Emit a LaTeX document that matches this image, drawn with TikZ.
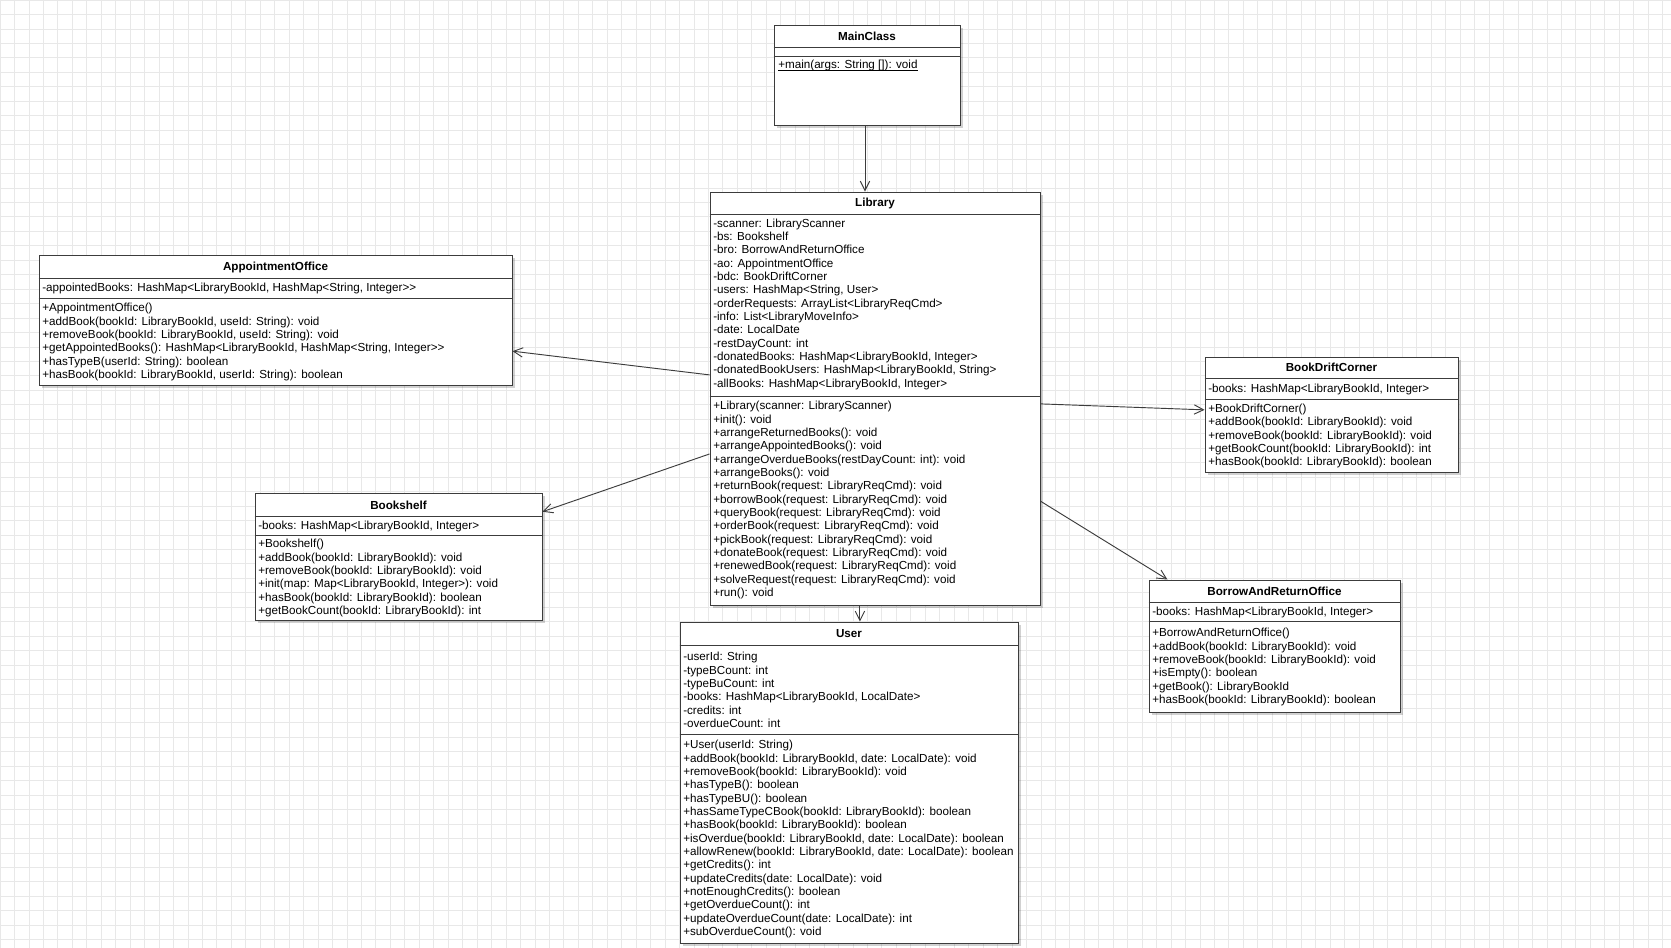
\documentclass[tikz,border=0pt]{standalone}
\usepackage{fontspec}
\setmainfont{Liberation Sans}
\usetikzlibrary{calc,positioning,arrows.meta,fit,shadows}
\definecolor{gridgray}{RGB}{232,232,232}
\definecolor{linegray}{RGB}{60,60,60}

\begin{document}
\begin{tikzpicture}[x=0.75pt, y=-0.75pt,
  classbox/.style={draw=linegray, line width=0.7pt, fill=white, inner sep=0pt,
    drop shadow={shadow xshift=2pt, shadow yshift=-2pt, opacity=0.18, fill=black}},
  classtitle/.style={font=\fontsize{8.75}{10}\selectfont\bfseries, inner sep=0pt},
  members/.style={font=\fontsize{8.75}{10}\selectfont, align=left, inner sep=0pt, anchor=west},
  sepline/.style={draw=linegray, line width=0.7pt},
  assoc/.style={draw=linegray, line width=0.7pt, -{Straight Barb[length=7pt, width=7pt]}},
  gridline/.style={draw=gridgray, line width=0.6pt}]

  % background and grid
  \fill[white] (0,0) rectangle (1671,948);
  \useasboundingbox (0,0) rectangle (1671,948);
  \foreach \i in {0,...,115} \draw[gridline] (\i*14.457,0) -- (\i*14.457,948);
  \foreach \j in {0,...,65} \draw[gridline] (0,\j*14.457) -- (1671,\j*14.457);

  % MainClass
  \node[classbox, fit={(774,25) (960,125)}] (main) {};
  \draw[sepline] (main.west |- 0,47) -- (main.east |- 0,47);
  \draw[sepline] (main.west |- 0,56) -- (main.east |- 0,56);
  \node[classtitle] (mainT) at (main.north |- 0,36) {MainClass};
  \node[members, anchor=north west] (mainM) at (778,60) {+main(args: String []): void};
  \draw[line width=0.5pt] ([yshift=-1.3pt]mainM.base west) -- ([yshift=-1.3pt]mainM.base east);

  % Library
  \node[classbox, fit={(710,192) (1040,605)}] (lib) {};
  \draw[sepline] (lib.west |- 0,214) -- (lib.east |- 0,214);
  \draw[sepline] (lib.west |- 0,396) -- (lib.east |- 0,396);
  \node[classtitle] (libT) at (lib.north |- 0,203) {Library};
  \node[members] (libA) at (713,304) {-scanner: LibraryScanner\\-bs: Bookshelf\\-bro: BorrowAndReturnOffice\\-ao: AppointmentOffice\\-bdc: BookDriftCorner\\-users: HashMap<String, User>\\-orderRequests: ArrayList<LibraryReqCmd>\\-info: List<LibraryMoveInfo>\\-date: LocalDate\\-restDayCount: int\\-donatedBooks: HashMap<LibraryBookId, Integer>\\-donatedBookUsers: HashMap<LibraryBookId, String>\\-allBooks: HashMap<LibraryBookId, Integer>};
  \node[members] (libM) at (713,500) {+Library(scanner: LibraryScanner)\\+init(): void\\+arrangeReturnedBooks(): void\\+arrangeAppointedBooks(): void\\+arrangeOverdueBooks(restDayCount: int): void\\+arrangeBooks(): void\\+returnBook(request: LibraryReqCmd): void\\+borrowBook(request: LibraryReqCmd): void\\+queryBook(request: LibraryReqCmd): void\\+orderBook(request: LibraryReqCmd): void\\+pickBook(request: LibraryReqCmd): void\\+donateBook(request: LibraryReqCmd): void\\+renewedBook(request: LibraryReqCmd): void\\+solveRequest(request: LibraryReqCmd): void\\+run(): void};

  % AppointmentOffice
  \node[classbox, fit={(39,255) (512,385)}] (appt) {};
  \draw[sepline] (appt.west |- 0,278) -- (appt.east |- 0,278);
  \draw[sepline] (appt.west |- 0,298) -- (appt.east |- 0,298);
  \node[classtitle] (apptT) at (appt.north |- 0,267) {AppointmentOffice};
  \node[members] (apptA) at (42,288) {-appointedBooks: HashMap<LibraryBookId, HashMap<String, Integer>{}>};
  \node[members] (apptM) at (42,342) {+AppointmentOffice()\\+addBook(bookId: LibraryBookId, useId: String): void\\+removeBook(bookId: LibraryBookId, useId: String): void\\+getAppointedBooks(): HashMap<LibraryBookId, HashMap<String, Integer>{}>\\+hasTypeB(userId: String): boolean\\+hasBook(bookId: LibraryBookId, userId: String): boolean};

  % Bookshelf
  \node[classbox, fit={(255,493) (542,620)}] (shelf) {};
  \draw[sepline] (shelf.west |- 0,516) -- (shelf.east |- 0,516);
  \draw[sepline] (shelf.west |- 0,535) -- (shelf.east |- 0,535);
  \node[classtitle] (shelfT) at (shelf.north |- 0,505) {Bookshelf};
  \node[members] (shelfA) at (258,526) {-books: HashMap<LibraryBookId, Integer>};
  \node[members] (shelfM) at (258,578) {+Bookshelf()\\+addBook(bookId: LibraryBookId): void\\+removeBook(bookId: LibraryBookId): void\\+init(map: Map<LibraryBookId, Integer>): void\\+hasBook(bookId: LibraryBookId): boolean\\+getBookCount(bookId: LibraryBookId): int};

  % BookDriftCorner
  \node[classbox, fit={(1205,357) (1458,472)}] (drift) {};
  \draw[sepline] (drift.west |- 0,378) -- (drift.east |- 0,378);
  \draw[sepline] (drift.west |- 0,399) -- (drift.east |- 0,399);
  \node[classtitle] (driftT) at (drift.north |- 0,367) {BookDriftCorner};
  \node[members] (driftA) at (1208,389) {-books: HashMap<LibraryBookId, Integer>};
  \node[members] (driftM) at (1208,436) {+BookDriftCorner()\\+addBook(bookId: LibraryBookId): void\\+removeBook(bookId: LibraryBookId): void\\+getBookCount(bookId: LibraryBookId): int\\+hasBook(bookId: LibraryBookId): boolean};

  % BorrowAndReturnOffice
  \node[classbox, fit={(1149,580) (1400,712)}] (bro) {};
  \draw[sepline] (bro.west |- 0,602) -- (bro.east |- 0,602);
  \draw[sepline] (bro.west |- 0,621) -- (bro.east |- 0,621);
  \node[classtitle] (broT) at (bro.north |- 0,591) {BorrowAndReturnOffice};
  \node[members] (broA) at (1152,612) {-books: HashMap<LibraryBookId, Integer>};
  \node[members] (broM) at (1152,667) {+BorrowAndReturnOffice()\\+addBook(bookId: LibraryBookId): void\\+removeBook(bookId: LibraryBookId): void\\+isEmpty(): boolean\\+getBook(): LibraryBookId\\+hasBook(bookId: LibraryBookId): boolean};

  % User
  \node[classbox, fit={(680,622) (1018,943)}] (user) {};
  \draw[sepline] (user.west |- 0,645) -- (user.east |- 0,645);
  \draw[sepline] (user.west |- 0,734) -- (user.east |- 0,734);
  \node[classtitle] (userT) at (user.north |- 0,634) {User};
  \node[members] (userA) at (683,690) {-userId: String\\-typeBCount: int\\-typeBuCount: int\\-books: HashMap<LibraryBookId, LocalDate>\\-credits: int\\-overdueCount: int};
  \node[members] (userM) at (683,839) {+User(userId: String)\\+addBook(bookId: LibraryBookId, date: LocalDate): void\\+removeBook(bookId: LibraryBookId): void\\+hasTypeB(): boolean\\+hasTypeBU(): boolean\\+hasSameTypeCBook(bookId: LibraryBookId): boolean\\+hasBook(bookId: LibraryBookId): boolean\\+isOverdue(bookId: LibraryBookId, date: LocalDate): boolean\\+allowRenew(bookId: LibraryBookId, date: LocalDate): boolean\\+getCredits(): int\\+updateCredits(date: LocalDate): void\\+notEnoughCredits(): boolean\\+getOverdueCount(): int\\+updateOverdueCount(date: LocalDate): int\\+subOverdueCount(): void};

  % associations
  \coordinate (libS) at ($(lib.south west)!0.4545!(lib.south east)$);
  \draw[assoc] ([xshift=-1.5pt]main.south) -- ([xshift=-1.5pt]main.south |- lib.north);
  \draw[assoc] ($(lib.north west)!0.443!(lib.south west)$) -- ($(appt.north east)!0.738!(appt.south east)$);
  \draw[assoc] ($(lib.north west)!0.634!(lib.south west)$) -- ($(shelf.north east)!0.15!(shelf.south east)$);
  \draw[assoc] ($(lib.north east)!0.513!(lib.south east)$) -- ($(drift.north west)!0.46!(drift.south west)$);
  \draw[assoc] ($(lib.north east)!0.748!(lib.south east)$) -- ($(bro.north west)!0.075!(bro.north east)$);
  \draw[assoc] (libS) -- (libS |- user.north);
\end{tikzpicture}
\end{document}
